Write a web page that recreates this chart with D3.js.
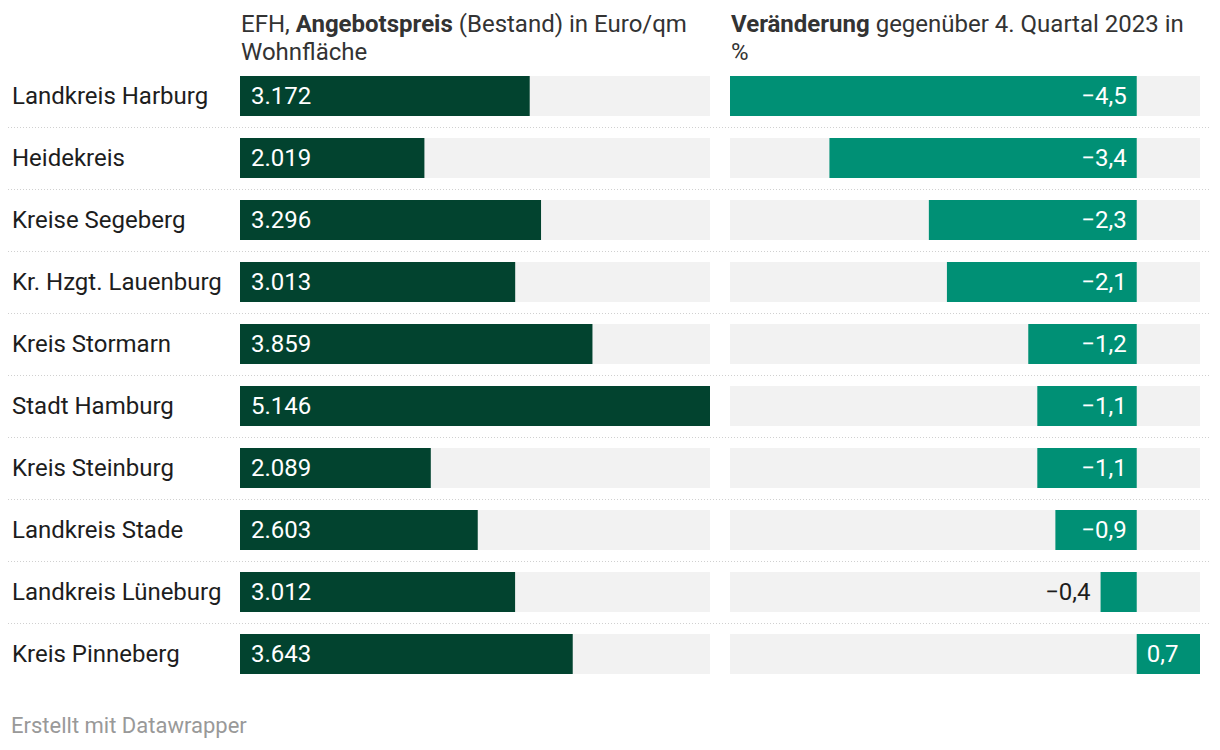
<!DOCTYPE html>
<html><head><meta charset="utf-8">
<script src="https://cdn.jsdelivr.net/npm/d3@7"></script>
<style>body{margin:0;background:#fff;font-family:Roboto,sans-serif}</style>
</head><body><svg id="c" width="1220" height="750"></svg>
<script>
const categories = ["Landkreis Harburg","Heidekreis","Kreise Segeberg","Kr. Hzgt. Lauenburg","Kreis Stormarn","Stadt Hamburg","Kreis Steinburg","Landkreis Stade","Landkreis Lüneburg","Kreis Pinneberg"];
const prices = [3172,2019,3296,3013,3859,5146,2089,2603,3012,3643];
const changes = [-4.5,-3.4,-2.3,-2.1,-1.2,-1.1,-1.1,-0.9,-0.4,0.7];

const svg = d3.select("#c");
const y = d3.scaleBand().domain(categories).range([76, 76 + 62*9 + 40]).paddingInner(22/62).paddingOuter(0);
const x1 = d3.scaleLinear().domain([0, d3.max(prices)]).range([240, 710]);
const x2 = d3.scaleLinear().domain([d3.min(changes), d3.max(changes)]).range([730, 1200]);
const fmtP = d => d3.format(",")(d).replace(/,/g, ".");
const fmtC = d => (d < 0 ? "\u2212" : "") + Math.abs(d).toFixed(1).replace(".", ",");
const FS = 24;

// headers
const h1 = svg.append("text").attr("x", 241).attr("y", 32).attr("font-size", FS).attr("fill", "#333");
h1.append("tspan").text("EFH, ");
h1.append("tspan").attr("font-weight", "bold").text("Angebotspreis");
h1.append("tspan").text(" (Bestand) in Euro/qm");
svg.append("text").attr("x", 241).attr("y", 60).attr("font-size", FS).attr("fill", "#333").text("Wohnfläche");
const h2 = svg.append("text").attr("x", 731).attr("y", 32).attr("font-size", FS).attr("fill", "#333");
h2.append("tspan").attr("font-weight", "bold").text("Veränderung");
h2.append("tspan").text(" gegenüber 4. Quartal 2023 in");
svg.append("text").attr("x", 731).attr("y", 60).attr("font-size", FS).attr("fill", "#333").text("%");

// separators
svg.selectAll("line.sep").data(categories.slice(0, -1)).join("line")
  .attr("x1", 8).attr("x2", 1210)
  .attr("y1", d => y(d) + y.bandwidth() + 11.5).attr("y2", d => y(d) + y.bandwidth() + 11.5)
  .attr("stroke", "#d0d0d0").attr("stroke-width", 1).attr("stroke-dasharray", "1,2");

const rows = svg.selectAll("g.row").data(categories).join("g");
rows.append("text").attr("x", 12).attr("y", d => y(d) + y.bandwidth()/2).attr("dy", "0.35em")
  .attr("font-size", FS).attr("fill", "#1d1d1d").text(d => d);
rows.append("rect").attr("x", 240).attr("width", 470).attr("y", d => y(d)).attr("height", y.bandwidth()).attr("fill", "#f2f2f2");
rows.append("rect").attr("x", 730).attr("width", 470).attr("y", d => y(d)).attr("height", y.bandwidth()).attr("fill", "#f2f2f2");
rows.append("rect").attr("x", x1(0)).attr("y", d => y(d)).attr("height", y.bandwidth())
  .attr("width", (d, i) => x1(prices[i]) - x1(0)).attr("fill", "#02432f");
rows.append("text").attr("x", x1(0) + 11).attr("y", d => y(d) + y.bandwidth()/2).attr("dy", "0.35em")
  .attr("font-size", FS).attr("fill", "#fff").text((d, i) => fmtP(prices[i]));
rows.append("rect").attr("y", d => y(d)).attr("height", y.bandwidth())
  .attr("x", (d, i) => Math.min(x2(0), x2(changes[i])))
  .attr("width", (d, i) => Math.abs(x2(changes[i]) - x2(0))).attr("fill", "#009075");
rows.append("text").attr("y", d => y(d) + y.bandwidth()/2).attr("dy", "0.35em").attr("font-size", FS)
  .each(function(d, i) {
    const v = changes[i], t = d3.select(this);
    const w = Math.abs(x2(v) - x2(0));
    if (v < 0) {
      if (w > 60) t.attr("x", x2(0) - 10).attr("text-anchor", "end").attr("fill", "#fff");
      else t.attr("x", x2(v) - 10).attr("text-anchor", "end").attr("fill", "#1d1d1d");
    } else {
      t.attr("x", x2(0) + 10).attr("text-anchor", "start").attr("fill", "#fff");
    }
    t.text(fmtC(v));
  });

svg.append("text").attr("x", 11).attr("y", 733).attr("font-size", 22).attr("fill", "#999").text("Erstellt mit Datawrapper");
</script></body></html>
